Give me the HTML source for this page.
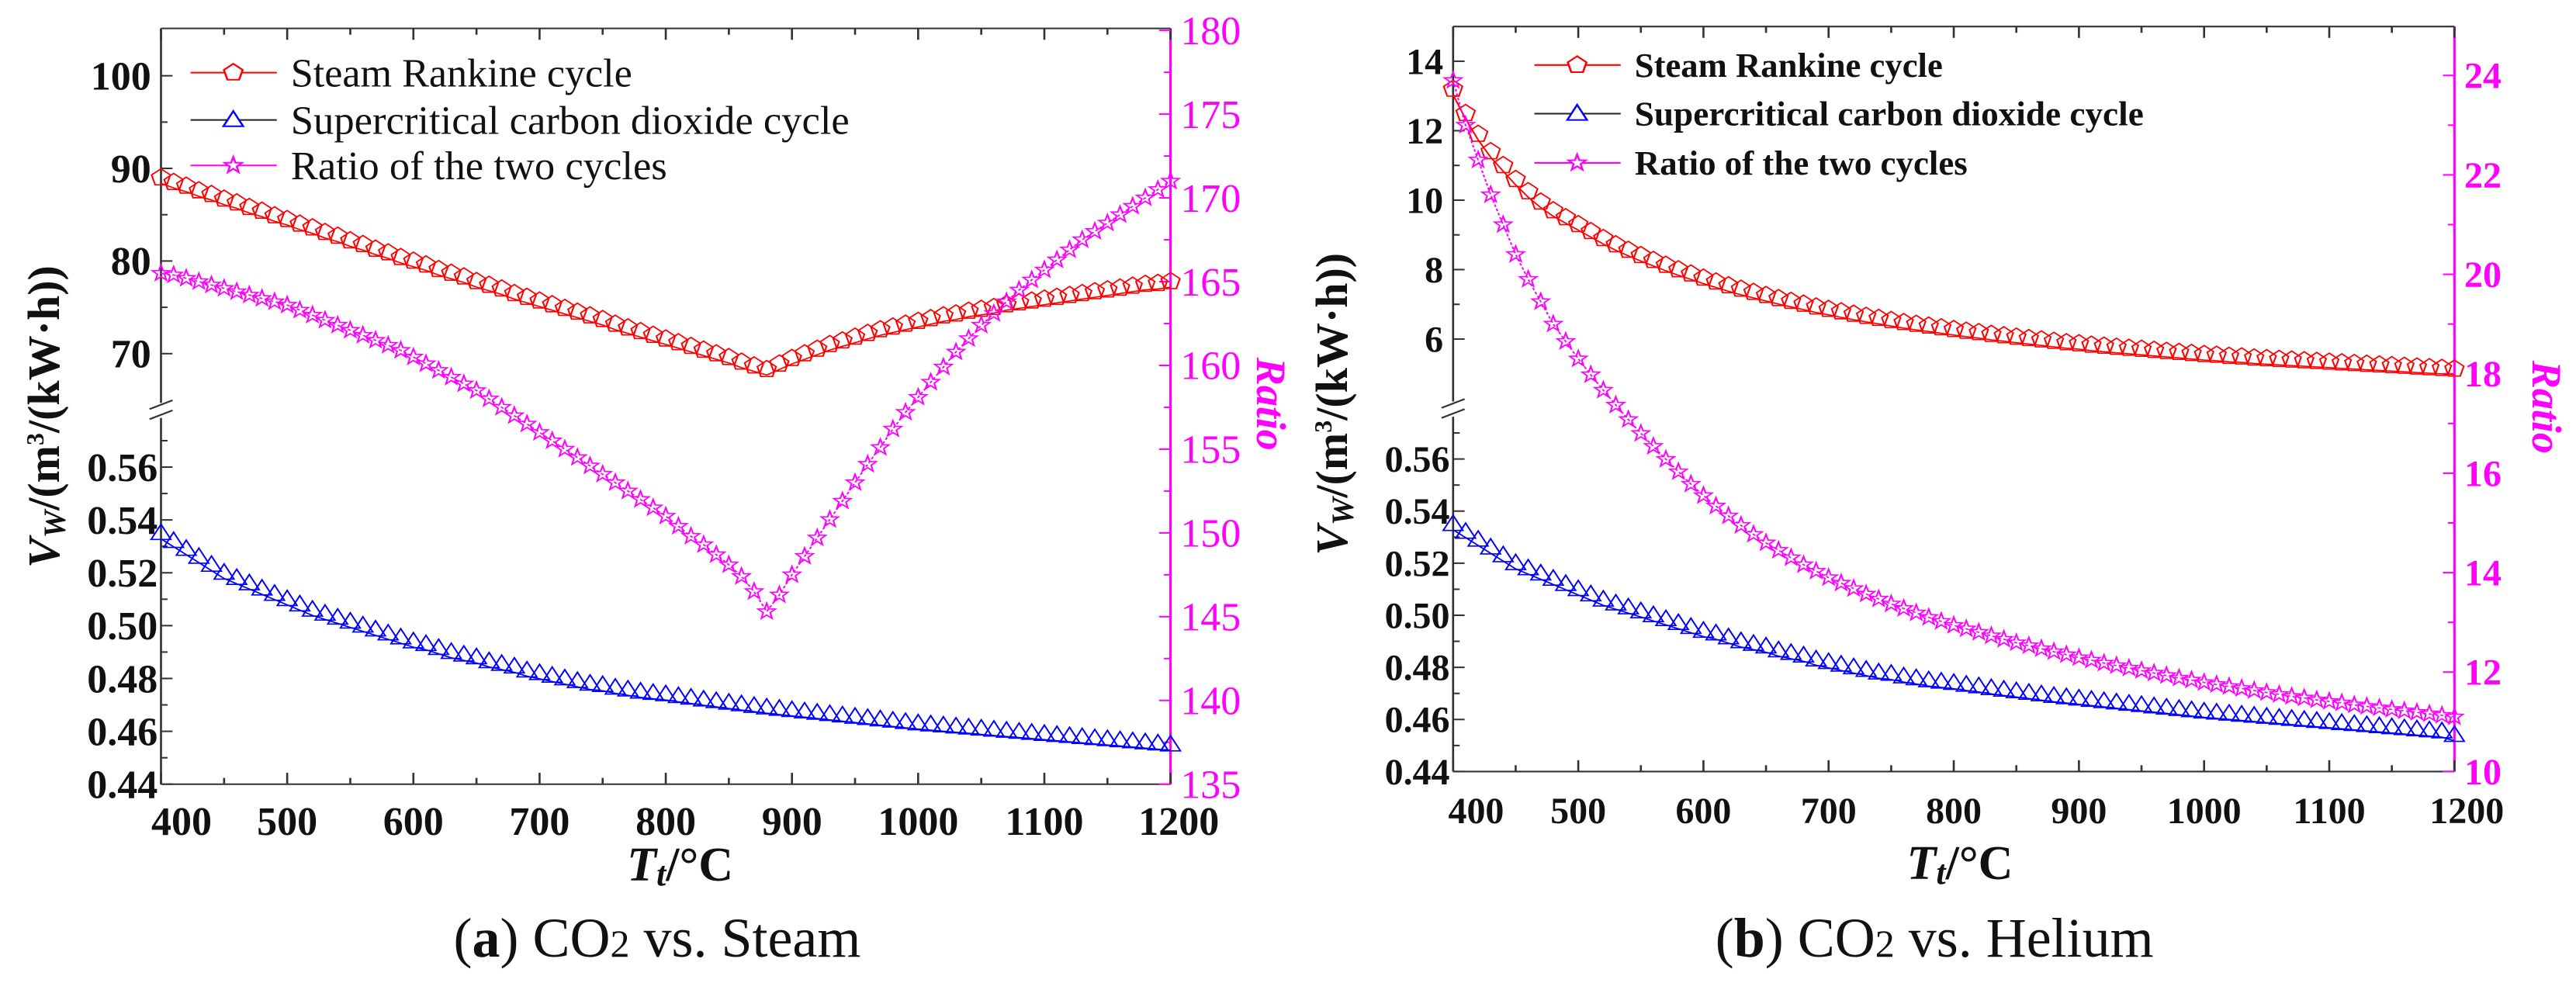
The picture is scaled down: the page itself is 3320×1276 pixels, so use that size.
<!DOCTYPE html>
<html><head><meta charset="utf-8">
<style>
html,body{margin:0;padding:0;background:#fff;}
body{width:3320px;height:1276px;position:relative;overflow:hidden;}
svg{position:absolute;top:0;}
text{font-family:"Liberation Serif",serif;}
</style></head>
<body>
<svg id="pa" style="left:0" width="1660" height="1276" viewBox="0 0 1568 1568" preserveAspectRatio="none"></svg>
<svg id="pb" style="left:1660px" width="1660" height="1276" viewBox="0 0 1568 1568" preserveAspectRatio="none"></svg>
<script>
// temperatures 400..1200 step 10
const temps = [400,410,420,430,440,450,460,470,480,490,500,510,520,530,540,550,560,570,580,590,600,610,620,630,640,650,660,670,680,690,700,710,720,730,740,750,760,770,780,790,800,810,820,830,840,850,860,870,880,890,900,910,920,930,940,950,960,970,980,990,1000,1010,1020,1030,1040,1050,1060,1070,1080,1090,1100,1110,1120,1130,1140,1150,1160,1170,1180,1190,1200];
const steamA = [89.0,88.5,88.1,87.6,87.2,86.7,86.3,85.8,85.4,84.9,84.5,84.0,83.6,83.1,82.7,82.2,81.8,81.3,80.9,80.4,80.0,79.6,79.1,78.7,78.3,77.8,77.4,77.0,76.5,76.1,75.7,75.3,74.9,74.5,74.1,73.7,73.2,72.8,72.4,72.0,71.6,71.2,70.8,70.4,70.0,69.6,69.1,68.7,68.3,68.9,69.5,70.0,70.5,71.0,71.4,71.8,72.2,72.6,72.9,73.2,73.5,73.8,74.1,74.3,74.6,74.8,75.0,75.3,75.5,75.7,75.9,76.1,76.3,76.5,76.7,76.9,77.1,77.3,77.5,77.6,77.8];
const co2A = [.535,.532,.529,.526,.523,.520,.518,.516,.514,.512,.510,.508,.506,.5045,.503,.5015,.500,.4985,.497,.4955,.494,.493,.4915,.490,.489,.488,.4865,.4855,.4845,.483,.482,.481,.480,.479,.478,.4775,.4765,.4758,.475,.4745,.474,.4733,.4727,.472,.4714,.4708,.4702,.4696,.469,.4685,.468,.4675,.467,.4665,.466,.4655,.465,.4645,.464,.4635,.463,.4626,.4622,.4618,.4614,.461,.4606,.4602,.4598,.4594,.459,.4586,.4582,.4578,.4574,.457,.4566,.4562,.4558,.4554,.455];
const ratioA = [165.5,165.4,165.2,165.0,164.8,164.6,164.4,164.2,164.0,163.8,163.6,163.3,163.0,162.7,162.4,162.1,161.8,161.5,161.2,160.9,160.5,160.1,159.7,159.3,158.9,158.5,158.0,157.5,157.0,156.5,156.0,155.5,155.0,154.5,154.0,153.5,153.0,152.5,152.0,151.5,151.0,150.4,149.8,149.3,148.7,148.1,147.4,146.5,145.3,146.3,147.5,148.6,149.7,150.8,151.9,153.0,154.1,155.1,156.2,157.2,158.1,159.0,159.9,160.8,161.6,162.4,163.1,163.8,164.5,165.1,165.7,166.3,166.9,167.5,168.0,168.5,169.0,169.5,170.0,170.5,171.0];
const steamB = [13.2,12.5,11.9,11.4,11.0,10.6,10.25,9.95,9.7,9.5,9.3,9.1,8.9,8.72,8.56,8.41,8.27,8.13,8.0,7.88,7.76,7.65,7.54,7.44,7.35,7.26,7.17,7.09,7.01,6.93,6.86,6.79,6.72,6.66,6.6,6.54,6.48,6.43,6.38,6.33,6.28,6.23,6.19,6.14,6.1,6.06,6.02,5.98,5.94,5.9,5.87,5.83,5.8,5.77,5.74,5.71,5.68,5.65,5.62,5.59,5.56,5.54,5.51,5.49,5.46,5.44,5.42,5.4,5.38,5.36,5.34,5.32,5.3,5.28,5.26,5.24,5.22,5.2,5.18,5.16,5.14];
const co2B = [.535,.532,.529,.526,.523,.520,.518,.516,.514,.512,.510,.508,.506,.5045,.503,.5015,.500,.4985,.497,.4955,.494,.493,.4915,.490,.489,.488,.4865,.4855,.4845,.483,.482,.481,.480,.479,.478,.4775,.4765,.4758,.475,.4745,.474,.4733,.4727,.472,.4714,.4708,.4702,.4696,.469,.4685,.468,.4675,.467,.4665,.466,.4655,.465,.4645,.464,.4635,.463,.4626,.4622,.4618,.4614,.461,.4606,.4602,.4598,.4594,.459,.4586,.4582,.4578,.4574,.457,.4566,.4562,.4558,.4554,.454];
const ratioB = [23.9,23.0,22.3,21.6,21.0,20.4,19.9,19.45,19.0,18.65,18.3,17.98,17.67,17.37,17.08,16.8,16.54,16.28,16.03,15.78,15.55,15.34,15.14,14.95,14.77,14.6,14.45,14.3,14.16,14.03,13.9,13.79,13.68,13.57,13.47,13.37,13.28,13.19,13.1,13.02,12.94,12.87,12.8,12.73,12.66,12.59,12.53,12.47,12.41,12.35,12.29,12.24,12.18,12.13,12.08,12.03,11.98,11.93,11.88,11.84,11.79,11.75,11.71,11.67,11.63,11.59,11.55,11.51,11.48,11.44,11.41,11.38,11.34,11.31,11.28,11.25,11.22,11.19,11.16,11.13,11.1];
const xTicks = [400,500,600,700,800,900,1000,1100,1200];
const upperTicksA = [70,80,90,100];
const lowerTicks = [0.44,0.46,0.48,0.50,0.52,0.54,0.56];
const rightTicksA = [135,140,145,150,155,160,165,170,175,180];
const upperTicksB = [6,8,10,12,14];
const rightTicksB = [10,12,14,16,18,20,22,24];
const legendLabels = ["Steam Rankine cycle","Supercritical carbon dioxide cycle","Ratio of the two cycles"];

const NS="http://www.w3.org/2000/svg";
const SX=0.9446, SY=1.2288;
function mk(parent,tag,attrs,txt){const e=document.createElementNS(NS,tag);for(const k in attrs)e.setAttribute(k,attrs[k]);if(txt!==undefined)e.textContent=txt;parent.appendChild(e);return e;}
// text placed at (x,y) with counter-scaling so glyphs keep natural proportions
function T(parent,x,y,attrs,txt,rot){
  const a=Object.assign({x:0,y:0,transform:`translate(${x},${y}) scale(${SX},${SY})`+(rot?` rotate(${rot})`:'')},attrs);
  return mk(parent,'text',a,txt);
}

function markerPath(type,cx,cy){
  if(type==='pent'){let p=[];for(let i=0;i<5;i++){const a=-Math.PI/2+i*2*Math.PI/5;p.push((cx+12*Math.cos(a)).toFixed(1)+','+(cy+14*Math.sin(a)).toFixed(1));}return 'M'+p.join('L')+'Z';}
  if(type==='tri'){return `M${cx},${cy-14}L${cx+12},${cy+10}L${cx-12},${cy+10}Z`;}
  let p=[];for(let i=0;i<10;i++){const r=i%2?4.5:11;const a=-Math.PI/2+i*Math.PI/5;p.push((cx+r*Math.cos(a)).toFixed(1)+','+(cy+r*1.2*Math.sin(a)).toFixed(1));}return 'M'+p.join('L')+'Z';
}

function drawPanel(svg,c,steam,co2,ratio,upT,rT){
  const X=t=>c.x0+(t-400)/800*(c.x1-c.x0);
  const YU=v=>c.uRefY+(c.uRef-v)*c.uScale;
  const YL=v=>c.bottom-(v-0.44)/0.02*c.lScale;
  const YR=v=>c.bottom-(v-c.rMin)*c.rScale;
  const fr=mk(svg,'path',{d:`M${c.x0},${c.top}H${c.x1}M${c.x0},${c.bottom}H${c.x1}M${c.x0},${c.top}V${c.breakY-12}M${c.x0},${c.breakY+12}V${c.bottom}`,stroke:'#333',fill:'none','stroke-width':2.5});
  
  const br=mk(svg,'path',{d:`M${c.x0-14},${c.breakY-2}L${c.x0+14},${c.breakY-16}M${c.x0-14},${c.breakY+14}L${c.x0+14},${c.breakY}`,stroke:'#333','stroke-width':2.5,fill:'none'});
  
  const ra=mk(svg,'line',{x1:c.x1,x2:c.x1,y1:c.top,y2:c.bottom,stroke:'#ff00ff','stroke-width':3});
  
  for(let t=400;t<=1200;t+=50){const x=X(t);const L=t%100===0?18:10;
    mk(svg,'line',{x1:x,x2:x,y1:c.bottom,y2:c.bottom-L,stroke:'#333','stroke-width':2.5});
    mk(svg,'line',{x1:x,x2:x,y1:c.top,y2:c.top+L,stroke:'#333','stroke-width':2.5});}
  xTicks.forEach(t=>{let x=X(t);if(t===400)x+=c.firstShift;if(t===1200)x-=c.lastShift;
    const e=T(svg,x,c.bottom+c.xLabDy,{'text-anchor':'middle','font-size':c.fs,'font-weight':'bold',fill:'#111'},String(t));
    });
  upT.forEach((v,i)=>{const y=YU(v);mk(svg,'line',{x1:c.x0,x2:c.x0+14,y1:y,y2:y,stroke:'#333','stroke-width':2.5});
    const ym=YU(v+c.uStep/2);if(ym>c.top+4)mk(svg,'line',{x1:c.x0,x2:c.x0+8,y1:ym,y2:ym,stroke:'#333','stroke-width':2.5});
    const e=T(svg,c.x0-12,y+c.fs*0.42,{'text-anchor':'end','font-size':c.fs,'font-weight':'bold',fill:'#111'},String(v));
    });
  lowerTicks.forEach(v=>{const y=YL(v);mk(svg,'line',{x1:c.x0,x2:c.x0+14,y1:y,y2:y,stroke:'#333','stroke-width':2.5});
    const ym=YL(v+0.01);mk(svg,'line',{x1:c.x0,x2:c.x0+8,y1:ym,y2:ym,stroke:'#333','stroke-width':2.5});
    const e=T(svg,c.x0-4,y+c.fs*0.42,{'text-anchor':'end','font-size':c.fs,'font-weight':'bold',fill:'#111'},v.toFixed(2));
    });
  rT.forEach(v=>{const y=YR(v);mk(svg,'line',{x1:c.x1,x2:c.x1-14,y1:y,y2:y,stroke:'#ff00ff','stroke-width':2.5});
    const ym=YR(v+c.rStep/2);if(ym>c.top)mk(svg,'line',{x1:c.x1,x2:c.x1-8,y1:ym,y2:ym,stroke:'#ff00ff','stroke-width':2.5});
    const e=T(svg,c.x1+12,y+c.fs*0.42,{'font-size':c.fs,'font-weight':c.rW,fill:'#ff00ff'},String(v));
    });
  const series=[[steam,YU,'#ff0000','pent','steam-rankine-series'],[co2,YL,'#0000ff','tri','sco2-series'],[ratio,YR,'#ff00ff','star','ratio-series']];
  series.forEach(([d,Y,col,type,name])=>{
    const g=mk(svg,'g',{});
    mk(g,'path',{d:'M'+temps.map((t,i)=>X(t).toFixed(1)+','+(Y(d[i])+(type==='star'?0:9)).toFixed(1)).join('L'),stroke:col,fill:'none','stroke-width':2,'stroke-dasharray':type==='star'?'4 3':'none'});
    temps.forEach((t,i)=>{const m=mk(g,'path',{d:markerPath(type,X(t),Y(d[i])),stroke:col,fill:'none','stroke-width':2});
      });
  });
  const cols=[['#ff0000','#ff0000','pent'],['#222','#0000ff','tri'],['#ff00ff','#ff00ff','star']];
  legendLabels.forEach((lab,i)=>{const y=c.legY[i];const g=mk(svg,'g',{});
    
    mk(g,'line',{x1:c.legX,x2:c.legX+105,y1:y,y2:y,stroke:cols[i][0],'stroke-width':2.5});
    mk(g,'path',{d:markerPath(cols[i][2],c.legX+52,y),stroke:cols[i][1],fill:'#fff','stroke-width':2.5});
    T(g,c.legX+122,y+c.legFs*0.42,{'font-size':c.legFs,'font-weight':c.legW,fill:'#111',textLength:c.legLen[i],lengthAdjust:'spacingAndGlyphs'},lab);});
  const yt=T(svg,c.yTitleX,c.yTitleY,{'text-anchor':'middle','font-size':58,'font-weight':'bold',fill:'#111'},undefined,-90);
  
  yt.innerHTML='<tspan font-style="italic">V</tspan><tspan font-style="italic" font-size="40" dy="8">W</tspan><tspan dy="-8">/(m</tspan><tspan font-size="32" dy="-20">3</tspan><tspan dy="20">/(kW·h))</tspan>';
  const rt=T(svg,c.rTitleX,c.rTitleY,{'text-anchor':'middle','font-size':54,'font-weight':'bold','font-style':'italic',fill:'#ff00ff'},'Ratio',90);
  
  const xt=T(svg,c.xTitleX,c.xTitleY,{'text-anchor':'middle','font-size':62,'font-weight':'bold',fill:'#111'});
  
  xt.innerHTML='<tspan font-style="italic">T</tspan><tspan font-style="italic" font-size="44" dy="6">t</tspan><tspan dy="-6">/°C</tspan>';
  const cap=T(svg,c.capX,1515,{'text-anchor':'middle','font-size':72,fill:'#111'});
  
  cap.innerHTML='(<tspan font-weight="bold">'+c.letter+'</tspan>) CO<tspan font-size="50">2</tspan> vs. '+c.gas;
}

drawPanel(document.getElementById('pa'),{x0:196,x1:1425,top:45,bottom:1242,breakY:650,
  uRef:100,uRefY:120,uScale:14.67,uStep:10,lScale:83.7,rMin:135,rScale:26.53,rStep:5,
  fs:52,rW:'normal',xLabDy:80,firstShift:25,lastShift:-10,
  legX:232,legY:[115,190,262],legFs:52,legW:'normal',legLen:[440,720,485],
  yTitleX:72,yTitleY:660,rTitleX:1530,rTitleY:640,xTitleX:828,xTitleY:1395,capX:800,letter:'a',gas:'Steam'},
  steamA,co2A,ratioA,upperTicksA,rightTicksA);
drawPanel(document.getElementById('pb'),{x0:201,x1:1420,top:42,bottom:1222,breakY:648,
  uRef:14,uRefY:97,uScale:55,uStep:2,lScale:82.5,rMin:10,rScale:78.75,rStep:2,
  fs:48,rW:'bold',xLabDy:82,firstShift:28,lastShift:-15,
  legX:300,legY:[103,180,258],legFs:44,legW:'bold',legLen:[397,656,429],
  yTitleX:72,yTitleY:640,rTitleX:1515,rTitleY:645,xTitleX:818,xTitleY:1392,capX:787,letter:'b',gas:'Helium'},
  steamB,co2B,ratioB,upperTicksB,rightTicksB);
</script>
</body></html>
